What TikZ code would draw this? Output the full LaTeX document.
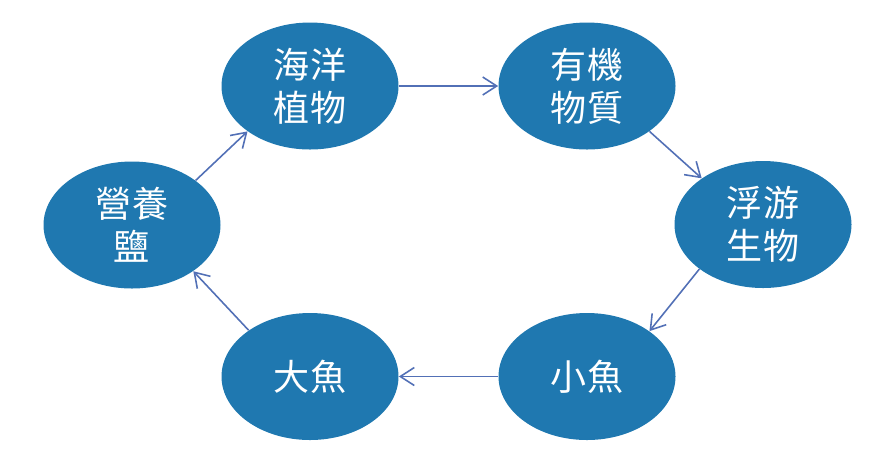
\documentclass[tikz,border=0pt]{standalone}
\usepackage{fontspec}
\setmainfont{Noto Sans CJK TC}
\usepackage{tikz}
\usetikzlibrary{shapes.geometric, arrows.meta}
\definecolor{nodeblue}{RGB}{31,120,176}
\definecolor{arrowblue}{RGB}{82,112,182}

\begin{document}
\begin{tikzpicture}[
    cyc/.style={ellipse, fill=nodeblue, text=white, minimum width=3.54cm, minimum height=2.54cm,
        inner sep=0pt, align=center, font=\fontsize{20.5}{24.5}\selectfont},
    arrow/.style={-{Straight Barb[length=2.8mm, width=3.6mm]}, line width=0.9pt, arrowblue}
]
    \useasboundingbox (0,0) rectangle (17.44,-9.02);
    \node[cyc] (ys) at (2.64,-4.50) {營養\\鹽};
    \node[cyc] (hy) at (6.20,-1.72) {海洋\\植物};
    \node[cyc] (yj) at (11.74,-1.72) {有機\\物質};
    \node[cyc] (fy) at (15.26,-4.49) {浮游\\生物};
    \node[cyc] (xy) at (11.74,-7.53) {小魚};
    \node[cyc] (dy) at (6.20,-7.53) {大魚};
    \draw[arrow] (ys.35) -- (hy.216);
    \draw[arrow] (hy.east) -- (yj.west);
    \draw[arrow] (yj.-36) -- (fy.143);
    \draw[arrow] (fy.215) -- (xy.36);
    \draw[arrow] (xy.west) -- (dy.east);
    \draw[arrow] (dy.143) -- (ys.-37);
\end{tikzpicture}
\end{document}
